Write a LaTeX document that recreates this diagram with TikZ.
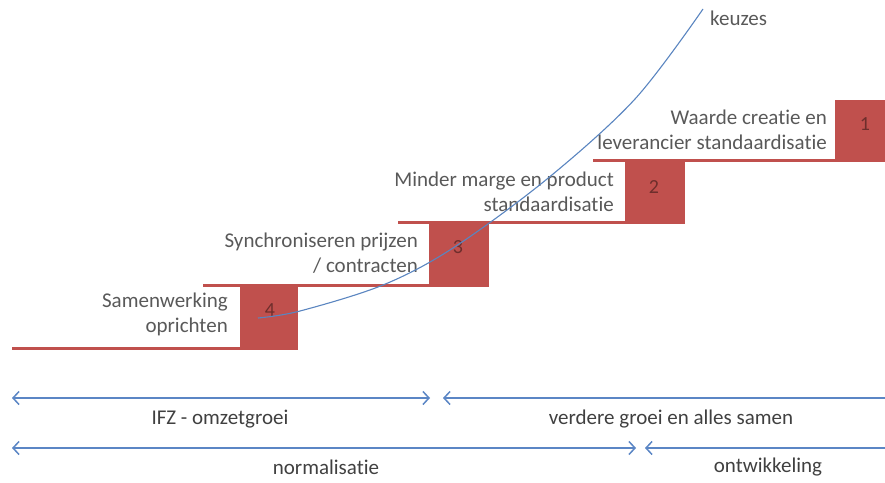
\documentclass[tikz,border=0pt]{standalone}
\usepackage{fontspec}
\setmainfont{Carlito}[Ligatures=NoCommon]
\usetikzlibrary{arrows.meta}
\definecolor{stepred}{HTML}{C0504D}
\definecolor{numcol}{HTML}{6E2E2C}
\definecolor{txtgray}{HTML}{595959}
\definecolor{botgray}{HTML}{404040}
\definecolor{arrblue}{HTML}{5B86C5}
\definecolor{curveblue}{HTML}{5A85C0}
\tikzset{
  stepline/.style={draw=stepred, line width=3pt},
  stepbox/.style={fill=stepred, draw=none},
  numtxt/.style={text=numcol, font=\fontsize{20}{22}\selectfont, inner sep=0pt},
  lbl/.style={text=txtgray, font=\fontsize{21}{25}\selectfont, align=right, anchor=east, inner sep=0pt},
  botlbl/.style={text=botgray, font=\fontsize{21}{25}\selectfont, inner sep=0pt},
  spanarrow/.style={draw=arrblue, line width=1.5pt, {Straight Barb[length=6pt,width=13pt]}-{Straight Barb[length=6pt,width=13pt]}},
  leftarrow/.style={draw=arrblue, line width=1.5pt, {Straight Barb[length=6pt,width=13pt]}-},
}
\begin{document}
\begin{tikzpicture}[x=1pt,y=-1pt]
\useasboundingbox (0,0) rectangle (885,482);
\clip (0,0) rectangle (885,482);
% boxes
\fill[stepbox] (240,285) rectangle (298,348);
\fill[stepbox] (429,222) rectangle (489,285);
\fill[stepbox] (625,161) rectangle (685,222);
\fill[stepbox] (835,100) rectangle (890,160);
% step lines
\coordinate (l0a) at (12,348); \coordinate (l0b) at (298,348);
\coordinate (l1a) at (203,285); \coordinate (l1b) at (489,285);
\coordinate (l2a) at (398,222); \coordinate (l2b) at (685,222);
\coordinate (l3a) at (593,160); \coordinate (l3b) at (890,160);
\draw[stepline] (l0a) -- (l0b);
\draw[stepline] (l1a) -- (l1b);
\draw[stepline] (l2a) -- (l2b);
\draw[stepline] (l3a) -- (l3b);
% numbers
\node[numtxt] (n4) at (270,310) {4};
\node[numtxt] (n3) at (458,247) {3};
\node[numtxt] (n2) at (654,187) {2};
\node[numtxt] (n1) at (865,124) {1};
% labels
\node[lbl] (t4) at (228,314) {Samenwerking\\oprichten};
\node[lbl] (t3) at (418,253) {Synchroniseren prijzen\\/ contracten};
\node[lbl] (t2) at (614,192) {Minder marge en product\\standaardisatie};
\node[lbl] (t1) at (827,130) {Waarde creatie en\\leverancier standaardisatie};
% curve
\draw[curveblue, line width=1.1pt] plot[smooth, tension=0.55] coordinates
 {(258,318) (300,311) (383,285) (453,248) (547,179) (635,99) (703,9)};
\node[text=txtgray, font=\fontsize{21}{24}\selectfont, anchor=west, inner sep=0pt] (kz) at (710,18) {keuzes};
% spans
\coordinate (a1l) at (12,398); \coordinate (a1r) at (430,398);
\coordinate (a2l) at (443,398); \coordinate (a2r) at (890,398);
\coordinate (b1l) at (12,448); \coordinate (b1r) at (636,448);
\coordinate (b2l) at (645,448); \coordinate (b2r) at (890,448);
\draw[spanarrow] (a1l) -- (a1r);
\draw[leftarrow] (a2l) -- (a2r);
\draw[spanarrow] (b1l) -- (b1r);
\draw[leftarrow] (b2l) -- (b2r);
\node[botlbl] (s1) at (220,419) {IFZ - omzetgroei};
\node[botlbl] (s2) at (671,419) {verdere groei en alles samen};
\node[botlbl] (s3) at (326,467) {normalisatie};
\node[botlbl] (s4) at (768,467) {ontwikkeling};
\end{tikzpicture}
\end{document}
